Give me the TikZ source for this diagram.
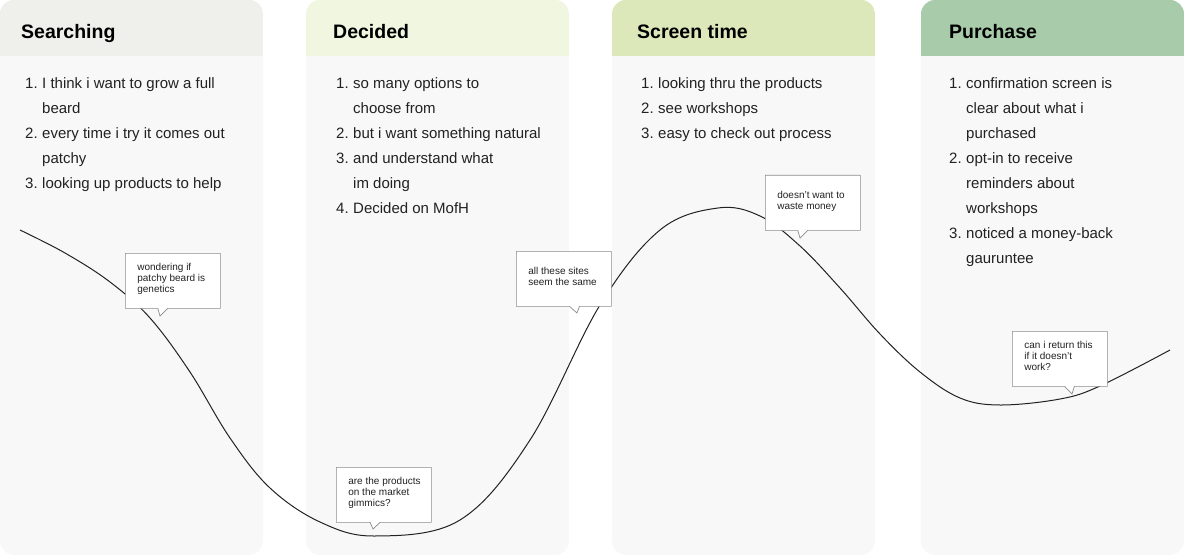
\documentclass[tikz,border=0pt]{standalone}
\usepackage{fontspec}
\setmainfont{Liberation Sans}
\usetikzlibrary{shapes.callouts, positioning}
\definecolor{panelfill}{HTML}{F8F8F8}
\definecolor{searchhead}{HTML}{EFF0EB}
\definecolor{decidehead}{HTML}{F1F6E1}
\definecolor{screenhead}{HTML}{DDE8BA}
\definecolor{buyhead}{HTML}{A8CBA9}
\definecolor{noteborder}{HTML}{8C8C8C}
\definecolor{darkline}{HTML}{222222}
\definecolor{bodytext}{HTML}{222222}
\tikzset{
  phasetitle/.style={anchor=base west, inner sep=0pt,
                     font=\fontsize{19.5}{24}\selectfont\bfseries, text=black},
  steps/.style={anchor=base west, inner sep=0pt,
                font=\fontsize{15}{25}\selectfont, text=bodytext},
  thought/.style={rectangle callout, draw=noteborder, fill=white, line width=0.7pt,
                  callout pointer width=10pt, anchor=north west,
                  inner xsep=12pt, inner ysep=8pt,
                  font=\fontsize{10}{11}\selectfont, text=bodytext},
  journey/.style={draw=darkline, line width=1pt},
}
\def\panelw{263}
\def\panelh{555}
\def\headh{56}
\newcommand{\thoughttext}[1]{\parbox[c][39pt][c]{71pt}{%
  \vspace*{-3pt}\begin{tabular}[t]{@{}l@{}}#1\end{tabular}}}

\begin{document}
\begin{tikzpicture}[x=1pt, y=-1pt]
\useasboundingbox (0,0) rectangle (1185,556);

% Phase panels
\foreach \px/\hcol/\i in {0/searchhead/1, 306/decidehead/2, 612/screenhead/3, 921/buyhead/4} {
  \begin{scope}
    \clip[rounded corners=14pt] (\px,0) rectangle ++(\panelw,\panelh);
    \fill[panelfill] (\px,0) rectangle ++(\panelw,\panelh);
    \fill[\hcol] (\px,0) rectangle ++(\panelw,\headh);
  \end{scope}
}

% Titles
\node[phasetitle] (titleA) at (21,39)  {Searching};
\node[phasetitle] (titleB) at (333,39) {Decided};
\node[phasetitle] (titleC) at (637,39) {Screen time};
\node[phasetitle] (titleD) at (949,39) {Purchase};

% Steps
\node[steps] (stepsA) at (25,89) {\begin{tabular}[t]{@{}l@{\hspace{4.5pt}}l@{}}
  1. & I think i want to grow a full\\
     & beard\\
  2. & every time i try it comes out\\
     & patchy\\
  3. & looking up products to help
\end{tabular}};
\node[steps] (stepsB) at (336,89) {\begin{tabular}[t]{@{}l@{\hspace{4.5pt}}l@{}}
  1. & so many options to\\
     & choose from\\
  2. & but i want something natural\\
  3. & and understand what\\
     & im doing\\
  4. & Decided on MofH
\end{tabular}};
\node[steps] (stepsC) at (641,89) {\begin{tabular}[t]{@{}l@{\hspace{4.5pt}}l@{}}
  1. & looking thru the products\\
  2. & see workshops\\
  3. & easy to check out process
\end{tabular}};
\node[steps] (stepsD) at (949,89) {\begin{tabular}[t]{@{}l@{\hspace{4.5pt}}l@{}}
  1. & confirmation screen is\\
     & clear about what i\\
     & purchased\\
  2. & opt-in to receive\\
     & reminders about\\
     & workshops\\
  3. & noticed a money-back\\
     & gauruntee
\end{tabular}};

% Emotion curve
\draw[journey] plot[smooth, tension=0.6] coordinates {
  (20,230) (65,253) (110,282) (150,318) (190,372) (230,438) (270,488)
  (320,522) (375,536) (460,520) (530,440) (600,305) (660,230) (718,208)
  (760,216) (800,246) (840,288) (880,334) (920,372) (960,398) (1000,405)
  (1060,399) (1100,386) (1170,350)};

% Thoughts
\node[thought, callout absolute pointer={(160,316)}] (noteA) at (125,253)
  {\thoughttext{wondering if\\patchy beard is\\genetics}};
\node[thought, callout absolute pointer={(373,529)}] (noteB) at (336,467)
  {\thoughttext{are the products\\on the market\\gimmics?}};
\node[thought, callout absolute pointer={(577,313)}] (noteC) at (516,251)
  {\thoughttext{all these sites\\seem the same}};
\node[thought, callout absolute pointer={(800,238)}] (noteD) at (765,175)
  {\thoughttext{doesn't want to\\waste money}};
\node[thought, callout absolute pointer={(1072,394)}] (noteE) at (1012,331)
  {\thoughttext{can i return this\\if it doesn't\\work?}};

\end{tikzpicture}
\end{document}
